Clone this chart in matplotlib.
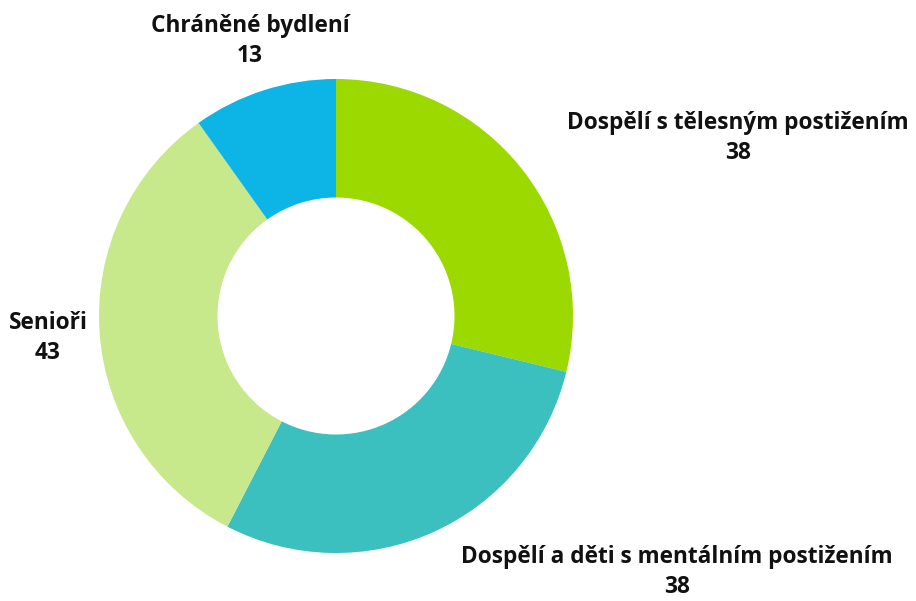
import matplotlib
matplotlib.use("Agg")
import matplotlib.pyplot as plt

categories = ["Dospělí s tělesným postižením",
              "Dospělí a děti s mentálním postižením",
              "Senioři",
              "Chráněné bydlení"]
values = [38, 38, 43, 13]
colors = ["#9BD900", "#3BBFBF", "#C8E88C", "#0DB4E6"]

# label centres in pixel coords (layout only)
label_px = [(738, 138), (677, 572), (48, 338), (250, 41)]

W, H = 916, 601
fig = plt.figure(figsize=(W / 100, H / 100), dpi=100)
cx, cy, R = 336, 316, 237
ax = fig.add_axes([(cx - R) / W, (H - cy - R) / H, 2 * R / W, 2 * R / H])
ax.pie(values, colors=colors, startangle=90, counterclock=False,
       radius=1.0, wedgeprops=dict(width=0.5, edgecolor="none"))
ax.set_xlim(-1, 1)
ax.set_ylim(-1, 1)
ax.set_aspect("equal")
ax.axis("off")

for cat, val, (px, py) in zip(categories, values, label_px):
    x = (px - cx) / R
    y = (cy - py) / R
    ax.text(x, y, f"{cat}\n{val}", ha="center", va="center",
            fontsize=16.3, fontweight="bold", family=["Open Sans", "DejaVu Sans"],
            color="#111111", linespacing=1.38, clip_on=False)

fig.savefig("out.png", dpi=100)
